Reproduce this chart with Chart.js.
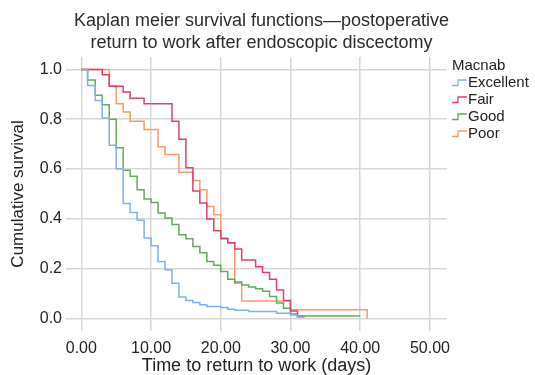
<!DOCTYPE html>
<html>
<head>
<meta charset="utf-8">
<script src="https://cdn.jsdelivr.net/npm/chart.js@4"></script>
<style>
  html, body { margin: 0; padding: 0; background: #ffffff; }
  #wrap { width: 535px; height: 375px; }
</style>
</head>
<body>
<div id="wrap"><canvas id="c" width="535" height="375"></canvas></div>
<script>
// ---- data ----
const seriesNames = ['Excellent', 'Fair', 'Good', 'Poor'];
const legendTitle = 'Macnab';

const excellentDays = [0, 0.9, 2, 3, 4, 5, 6, 7, 8, 9, 10, 11, 12, 13, 14, 15, 16, 17, 18, 20, 21, 22, 24, 28, 30, 31, 32];
const excellentSurv = [1, 0.935, 0.875, 0.805, 0.695, 0.601, 0.462, 0.426, 0.394, 0.323, 0.292, 0.229, 0.196, 0.142, 0.086, 0.072, 0.064, 0.055, 0.048, 0.044, 0.037, 0.033, 0.028, 0.021, 0.014, 0.006, 0.006];

const fairDays = [0, 3, 4, 6, 7, 9, 13, 14, 15, 16, 17, 18, 19, 20, 21, 22, 23, 25, 26, 27, 28, 29, 30, 31, 32];
const fairSurv = [1, 0.978, 0.932, 0.909, 0.884, 0.862, 0.792, 0.720, 0.605, 0.512, 0.464, 0.400, 0.352, 0.320, 0.304, 0.279, 0.235, 0.208, 0.185, 0.158, 0.115, 0.072, 0.030, 0.008, 0.008];

const goodDays = [0, 0.9, 2, 3, 4, 5, 6, 7, 8, 9, 10, 11, 12, 13, 14, 15, 16, 17, 18, 19, 20, 21, 22, 23, 24, 25, 26, 27, 28, 29, 30, 31, 40];
const goodSurv = [1, 0.957, 0.896, 0.858, 0.800, 0.685, 0.595, 0.571, 0.517, 0.480, 0.466, 0.424, 0.404, 0.377, 0.336, 0.320, 0.289, 0.264, 0.229, 0.214, 0.189, 0.158, 0.147, 0.135, 0.127, 0.120, 0.110, 0.088, 0.062, 0.041, 0.018, 0.010, 0.010];

const poorDays = [0, 4, 5, 6, 7, 9, 11, 12, 14, 16, 17, 18, 19, 20, 21, 22, 23, 30, 41];
const poorSurv = [1, 0.933, 0.862, 0.829, 0.792, 0.759, 0.689, 0.658, 0.587, 0.554, 0.517, 0.450, 0.417, 0.323, 0.303, 0.142, 0.070, 0.035, 0];

const xTicks = [0, 10, 20, 30, 40, 50];
const yTicks = [0, 0.2, 0.4, 0.6, 0.8, 1.0];

// ---- styling ----
const colors = {
  Excellent: 'rgb(128,176,236)',
  Fair: 'rgb(228,62,102)',
  Good: 'rgb(98,170,92)',
  Poor: 'rgb(250,154,104)'
};
const FONT = "'Liberation Sans', Arial, Helvetica, sans-serif";
const TEXT = '#222222';

function pts(days, surv) { return days.map((d, i) => ({ x: d, y: surv[i] })); }

const sources = {
  Excellent: [excellentDays, excellentSurv],
  Fair: [fairDays, fairSurv],
  Good: [goodDays, goodSurv],
  Poor: [poorDays, poorSurv]
};

const datasets = seriesNames.map(n => ({
  label: n,
  data: pts(sources[n][0], sources[n][1]),
  borderColor: colors[n],
  backgroundColor: colors[n],
  borderWidth: 1.5,
  stepped: 'before',
  pointRadius: 0,
  fill: false
}));

// legend at the right with small step icons, built from the dataset labels/colours
const stepLegend = {
  id: 'stepLegend',
  afterDraw(chart) {
    const ctx = chart.ctx;
    const x0 = chart.chartArea.right + 5;
    ctx.save();
    ctx.font = '15px ' + FONT;
    ctx.fillStyle = TEXT;
    ctx.textBaseline = 'middle';
    ctx.textAlign = 'left';
    ctx.fillText(legendTitle, x0, 66);
    chart.data.datasets.forEach((ds, i) => {
      const cy = 82.5 + i * 17;
      ctx.strokeStyle = ds.borderColor;
      ctx.lineWidth = 1.3;
      ctx.beginPath();
      ctx.moveTo(x0, cy + 3); ctx.lineTo(x0 + 6, cy + 3);
      ctx.lineTo(x0 + 6, cy - 2.5); ctx.lineTo(x0 + 15, cy - 2.5);
      ctx.stroke();
      ctx.fillStyle = TEXT;
      ctx.fillText(ds.label, x0 + 16, cy);
    });
    ctx.restore();
  }
};

new Chart(document.getElementById('c'), {
  type: 'line',
  data: { datasets },
  plugins: [stepLegend],
  options: {
    responsive: false,
    animation: false,
    layout: { padding: { left: 0, right: 12, top: 0, bottom: 0 } },
    plugins: {
      title: {
        display: true,
        text: ['Kaplan meier survival functions\u2014postoperative', 'return to work after endoscopic discectomy'],
        color: '#2b2b2b',
        font: { family: FONT, size: 18, weight: 'normal', lineHeight: 1.22 },
        padding: { top: 10, bottom: 3 }
      },
      legend: { display: false },
      tooltip: { enabled: false }
    },
    scales: {
      x: {
        type: 'linear',
        min: -2.2, max: 52.45,
        afterBuildTicks: s => { s.ticks = xTicks.map(v => ({ value: v })); },
        afterFit: s => { s.height = 44; },
        ticks: { callback: v => Number(v).toFixed(2), color: TEXT, font: { family: FONT, size: 16 }, padding: 8, maxRotation: 0 },
        grid: { color: '#d6d6d6', lineWidth: 1.5, drawTicks: false },
        border: { display: false },
        title: { display: true, text: 'Time to return to work (days)', color: TEXT, font: { family: FONT, size: 18, lineHeight: 1 }, padding: { top: 0, bottom: 0 } }
      },
      y: {
        type: 'linear',
        min: -0.05, max: 1.05,
        afterBuildTicks: s => { s.ticks = yTicks.map(v => ({ value: v })); },
        afterFit: s => { s.width = 66; },
        ticks: { callback: v => Number(v).toFixed(1), color: TEXT, font: { family: FONT, size: 16 }, padding: 4 },
        grid: { color: '#d6d6d6', lineWidth: 1.5, drawTicks: false },
        border: { display: false },
        title: { display: true, text: 'Cumulative survival', color: TEXT, font: { family: FONT, size: 17, lineHeight: 1.2 }, padding: { top: 8, bottom: 0 } }
      },
      legendSpace: {
        type: 'linear',
        position: 'right',
        display: true,
        afterFit: s => { s.width = 76; },
        ticks: { display: false },
        grid: { display: false, drawOnChartArea: false },
        border: { display: false },
        title: { display: false }
      }
    }
  }
});
</script>
</body>
</html>
